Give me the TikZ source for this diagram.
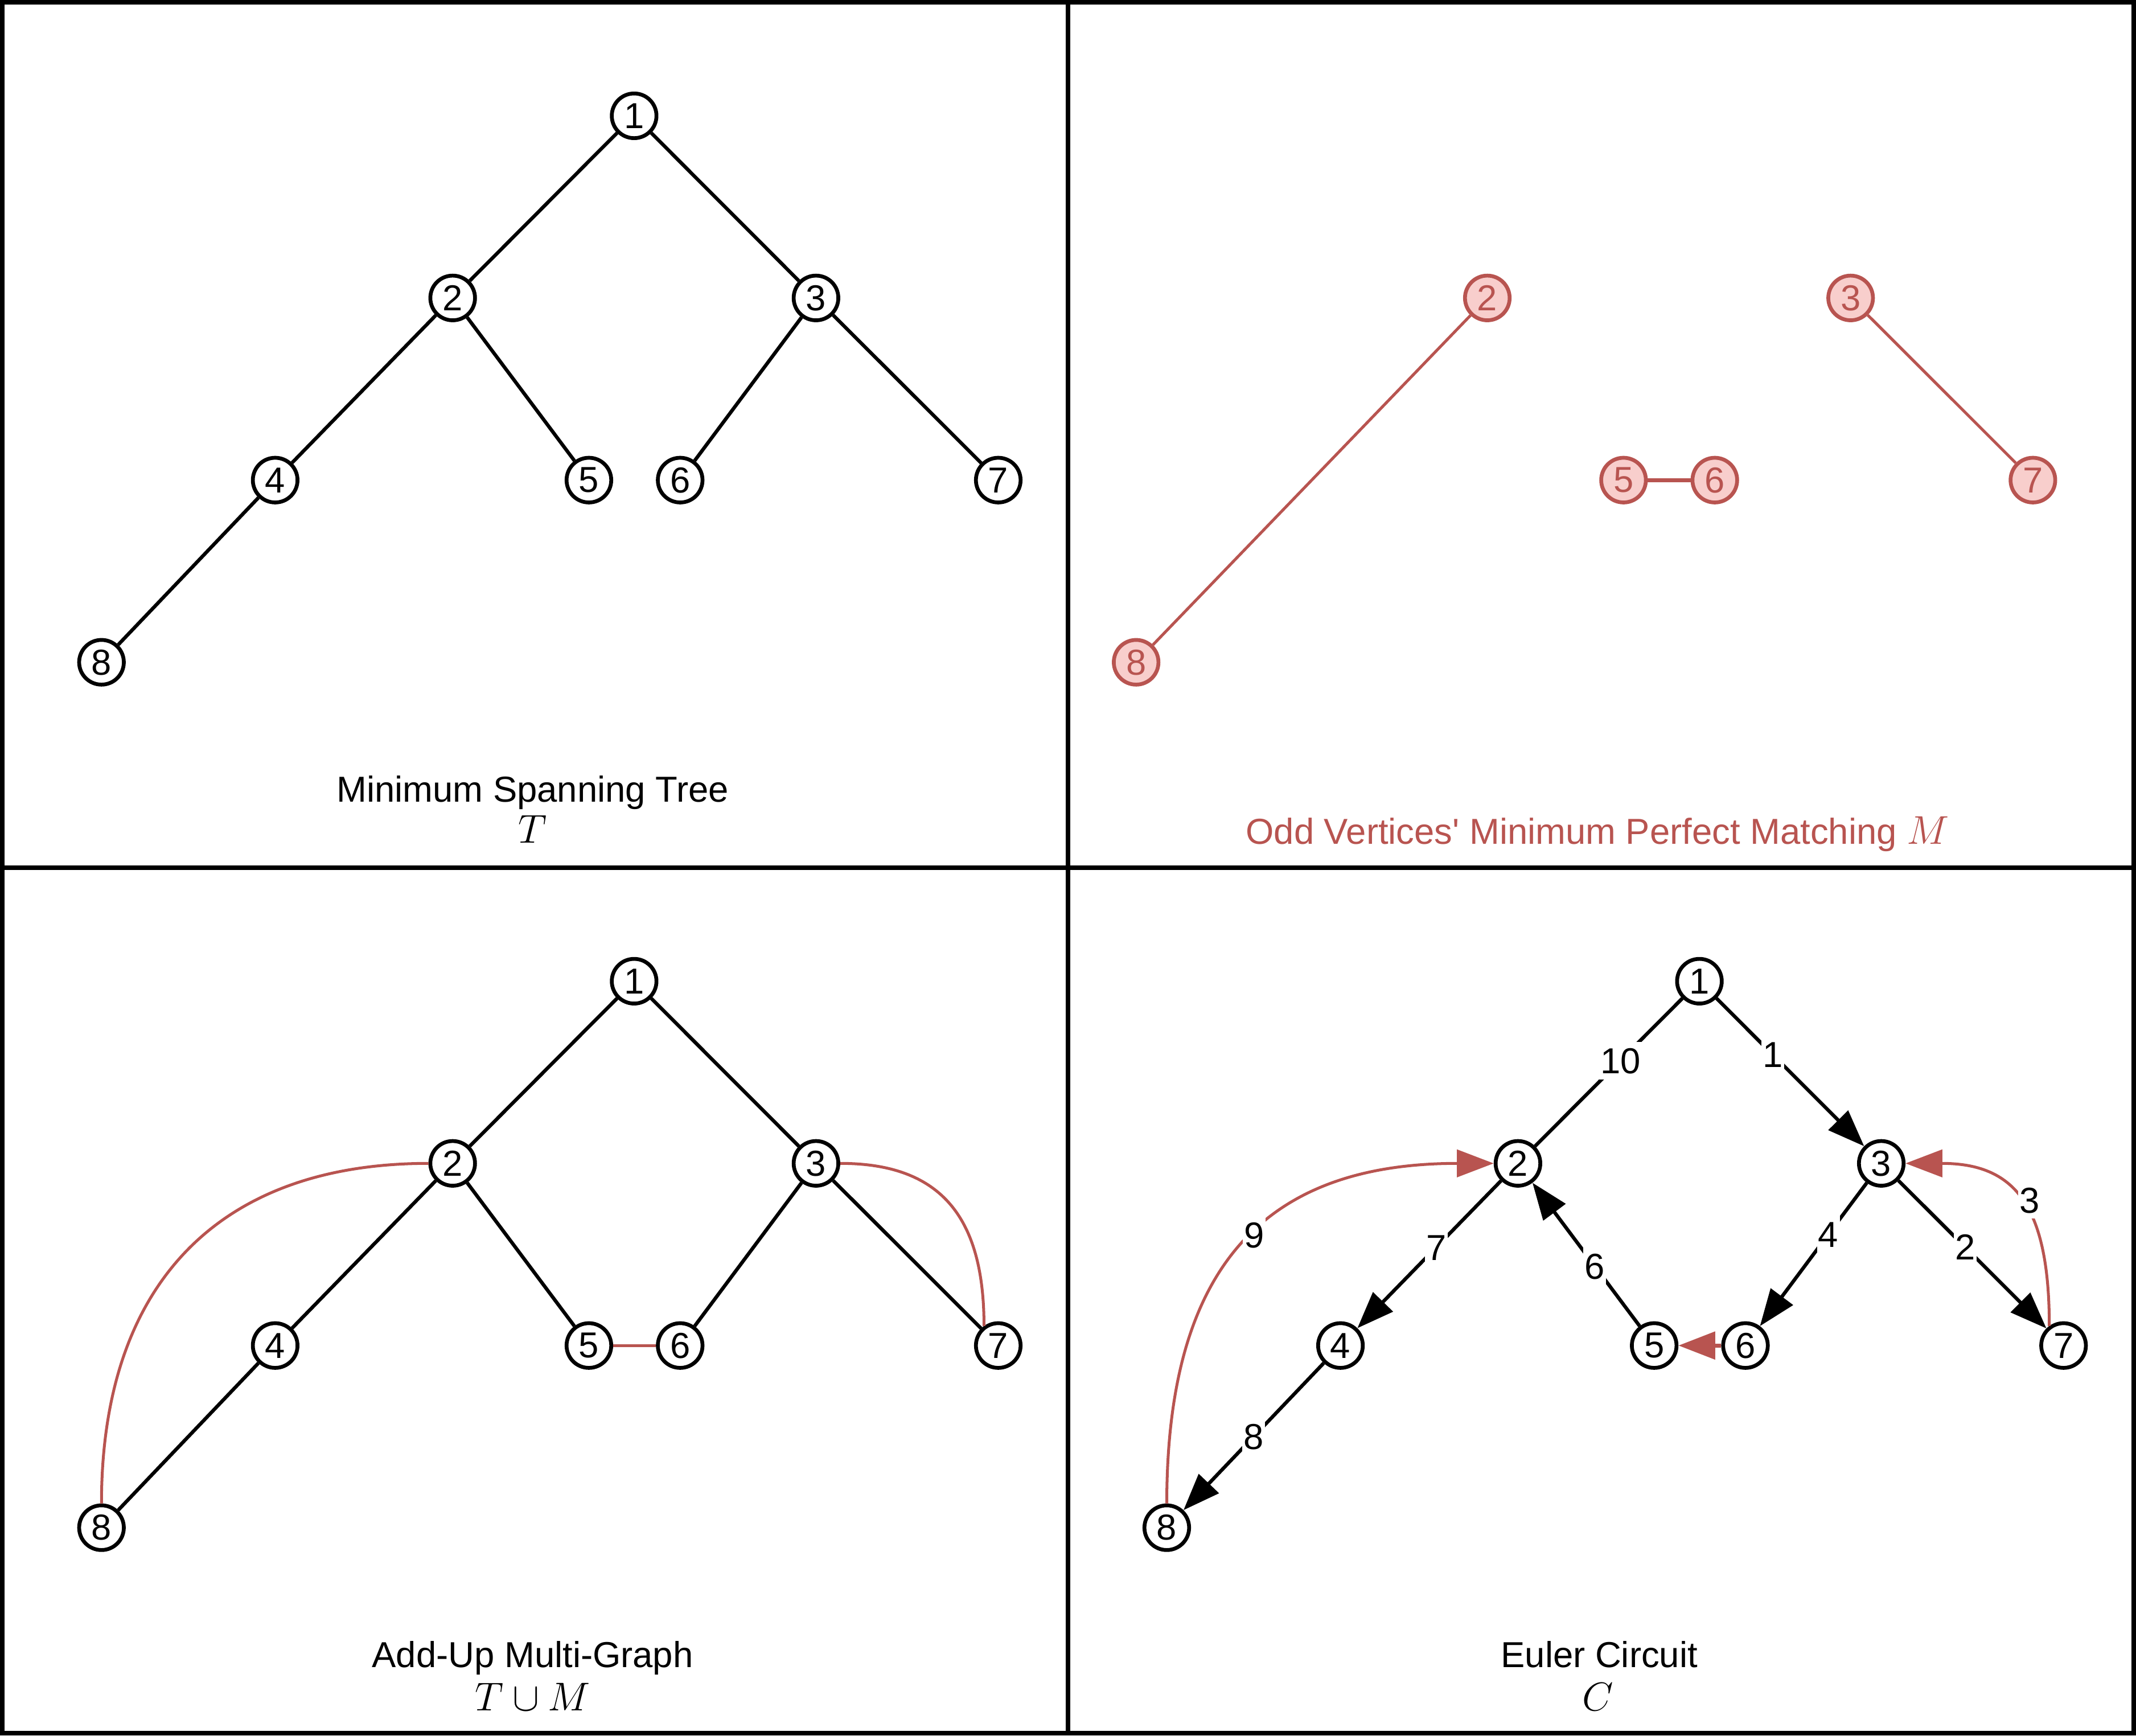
\RequirePackage{fix-cm}
\documentclass[tikz,border=0pt]{standalone}
\usepackage{fontspec}
\setmainfont{Liberation Sans}
\usetikzlibrary{arrows.meta}
\definecolor{rstroke}{HTML}{B85450}
\definecolor{rfill}{HTML}{F8CECC}
\newcommand\myfont{\fontsize{26.5}{31.8}\selectfont}
\newcommand\mymath{\fontsize{29.5}{32}\selectfont}
\tikzset{
  vtx/.style={circle, draw=black, line width=2.8pt, fill=white, minimum size=32.8pt, inner sep=0pt, font=\myfont},
  rvtx/.style={vtx, draw=rstroke, fill=rfill, text=rstroke},
  tedge/.style={line width=2.6pt, draw=black},
  redge/.style={line width=2.1pt, draw=rstroke},
  arr/.style={-{Triangle[length=27pt,width=20pt]}},
  lbl/.style={fill=white, inner xsep=1pt, inner ysep=4.3pt, text height=19pt, text depth=0pt, font=\myfont},
  captxt/.style={anchor=base, inner sep=0pt, font=\myfont},
  panel/.style={line width=3.34pt, draw=black}
}
\begin{document}
\begin{tikzpicture}[x=1pt,y=-1pt]
\useasboundingbox (0,0) rectangle (1568,1273.8);
% panel frame
\draw[panel] (1.67,1.67) rectangle (1566.33,1272.13);
\draw[panel] (784,0) -- (784,1273.8);
\draw[panel] (0,636.9) -- (1568,636.9);

% ---------- Panel A: Minimum Spanning Tree ----------
\node[vtx] (a1) at (465.5,85) {1};
\node[vtx] (a2) at (332.3,218.7) {2};
\node[vtx] (a3) at (599,218.7) {3};
\node[vtx] (a4) at (202,352.4) {4};
\node[vtx] (a5) at (432.3,352.4) {5};
\node[vtx] (a6) at (499.3,352.4) {6};
\node[vtx] (a7) at (732.8,352.4) {7};
\node[vtx] (a8) at (74.5,486.1) {8};
\draw[tedge] (a1) -- (a2);
\draw[tedge] (a1) -- (a3);
\draw[tedge] (a2) -- (a4);
\draw[tedge] (a2) -- (a5);
\draw[tedge] (a3) -- (a6);
\draw[tedge] (a3) -- (a7);
\draw[tedge] (a4) -- (a8);
\node[captxt] (capa1) at (391,588.5) {Minimum Spanning Tree};
\node[captxt] (capa2) at (391,618.5) {\mymath$T$};

% ---------- Panel B: matching ----------
\begin{scope}[shift={(759.5,0)}]
\node[rvtx] (b2) at (332.3,218.7) {2};
\node[rvtx] (b3) at (599,218.7) {3};
\node[rvtx] (b5) at (432.3,352.4) {5};
\node[rvtx] (b6) at (499.3,352.4) {6};
\node[rvtx] (b7) at (732.8,352.4) {7};
\node[rvtx] (b8) at (74.5,486.1) {8};
\end{scope}
\draw[redge] (b2) -- (b8);
\draw[redge] (b3) -- (b7);
\draw[redge, line width=3pt] (b5) -- (b6);
\node[captxt, text=rstroke] (capb) at (1172.7,619.4) {Odd Vertices\textquotesingle{} Minimum Perfect Matching {\mymath$M$}};

% ---------- Panel C: multigraph ----------
\begin{scope}[shift={(0,635.2)}]
\node[vtx] (c1) at (465.5,85) {1};
\node[vtx] (c2) at (332.3,218.7) {2};
\node[vtx] (c3) at (599,218.7) {3};
\node[vtx] (c4) at (202,352.4) {4};
\node[vtx] (c5) at (432.3,352.4) {5};
\node[vtx] (c6) at (499.3,352.4) {6};
\node[vtx] (c7) at (732.8,352.4) {7};
\node[vtx] (c8) at (74.5,486.1) {8};
\end{scope}
\draw[tedge] (c1) -- (c2);
\draw[tedge] (c1) -- (c3);
\draw[tedge] (c2) -- (c4);
\draw[tedge] (c2) -- (c5);
\draw[tedge] (c3) -- (c6);
\draw[tedge] (c3) -- (c7);
\draw[tedge] (c4) -- (c8);
\draw[redge] (c5) -- (c6);
\draw[redge] (c2.west) .. controls +(-155,0) and +(0,-160) .. (c8.north);
\draw[redge] (c3.east) .. controls +(72,0) and +(0,-82) .. (c7.126);
\node[captxt] (capc1) at (391,1223.7) {Add-Up Multi-Graph};
\node[captxt] (capc2) at (391,1255.5) {\mymath$T\cup M$};

% ---------- Panel D: Euler circuit ----------
\begin{scope}[shift={(782,635.2)}]
\node[vtx] (d1) at (465.5,85) {1};
\node[vtx] (d2) at (332.3,218.7) {2};
\node[vtx] (d3) at (599,218.7) {3};
\node[vtx] (d4) at (202,352.4) {4};
\node[vtx] (d5) at (432.3,352.4) {5};
\node[vtx] (d6) at (499.3,352.4) {6};
\node[vtx] (d7) at (732.8,352.4) {7};
\node[vtx] (d8) at (74.5,486.1) {8};
\end{scope}
\draw[tedge] (d2) -- (d1) node[lbl, pos=0.58] {10};
\draw[tedge, arr] (d1) -- (d3) node[lbl, pos=0.38] {1};
\draw[tedge, arr] (d3) -- (d7) node[lbl, pos=0.45] {2};
\draw[redge, arr] (d7.126) .. controls +(0,-90) and +(79,0) .. (d3.east) node[lbl, pos=0.45, xshift=4pt, yshift=5pt] {3};
\draw[tedge, arr] (d3) -- (d6) node[lbl, pos=0.36] {4};
\draw[redge, line width=3pt, arr] (d6) -- (d5);
\draw[tedge, arr] (d5) -- (d2) node[lbl, pos=0.42] {6};
\draw[tedge, arr] (d2) -- (d4) node[lbl, pos=0.45] {7};
\draw[tedge, arr] (d4) -- (d8) node[lbl, pos=0.5] {8};
\draw[redge, arr] (d8.north) .. controls +(0,-174) and +(-168,0) .. (d2.west) node[lbl, pos=0.53] {9};
\node[captxt] (capd1) at (1174,1223.7) {Euler Circuit};
\node[captxt] (capd2) at (1173,1255.5) {\mymath$C$};
\end{tikzpicture}
\end{document}
